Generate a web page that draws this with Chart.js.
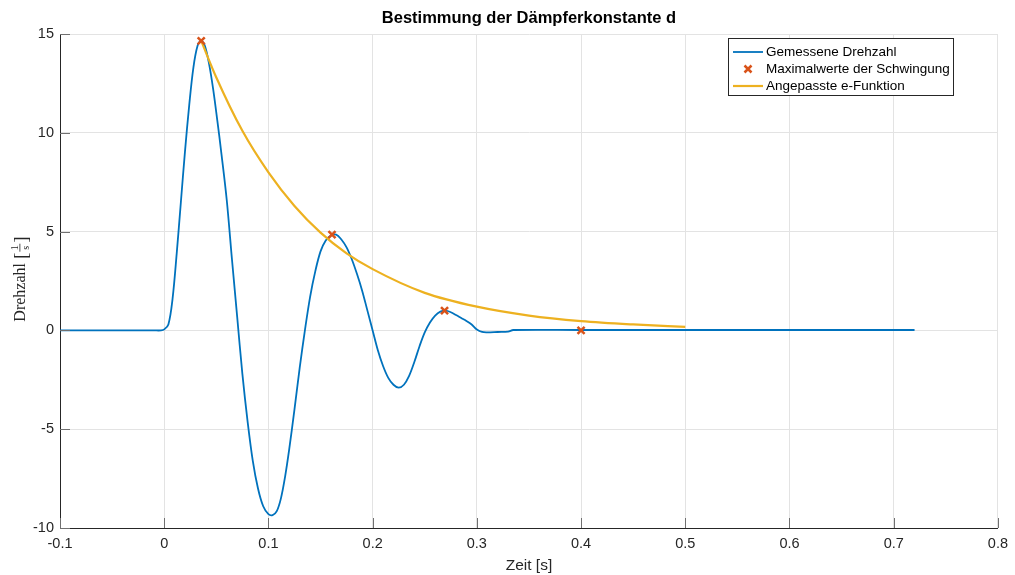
<!DOCTYPE html>
<html>
<head>
<meta charset="utf-8">
<script src="https://cdn.jsdelivr.net/npm/chart.js@4"></script>
<style>
  html, body { margin: 0; padding: 0; background: #fff; }
</style>
</head>
<body>
<canvas id="grafico" width="1015" height="575"></canvas>
<script>
const zeitMessung = [-0.1, -0.05, -0.01, -0.003, 0, 0.004, 0.008, 0.012, 0.016, 0.020, 0.024, 0.028, 0.032, 0.0355, 0.039, 0.043, 0.047, 0.051, 0.055,
  0.060, 0.065, 0.070, 0.075, 0.080, 0.085, 0.090, 0.095, 0.100, 0.104, 0.108, 0.112, 0.116, 0.120, 0.125, 0.130, 0.135,
  0.140, 0.145, 0.150, 0.155, 0.160, 0.165, 0.170, 0.175, 0.180, 0.185, 0.190, 0.195, 0.200, 0.205, 0.210, 0.215, 0.220,
  0.225, 0.230, 0.235, 0.240, 0.245, 0.250, 0.255, 0.260, 0.265, 0.270, 0.275, 0.280, 0.285, 0.290, 0.295, 0.300, 0.305,
  0.310, 0.320, 0.330, 0.335, 0.40, 0.55, 0.720];
const drehzahlMessung = [0, 0, 0, 0, 0.05, 0.3, 1.6, 3.9, 6.5, 9.1, 11.4, 13.3, 14.4, 14.65, 14.4, 13.5, 12.2, 10.6, 8.9,
  6.6, 3.6, 0.7, -2.2, -4.6, -6.6, -8.0, -8.9, -9.3, -9.35, -9.15, -8.5, -7.4, -6.0, -4.0, -1.9, 0.0,
  1.7, 3.0, 4.0, 4.55, 4.8, 4.85, 4.6, 4.2, 3.6, 2.85, 2.0, 1.0, 0.0, -1.0, -1.8, -2.4, -2.75,
  -2.9, -2.75, -2.3, -1.6, -0.8, -0.1, 0.4, 0.75, 0.95, 1.0, 0.92, 0.78, 0.63, 0.48, 0.3, 0.05, -0.08,
  -0.1, -0.08, -0.06, 0.02, 0.02, 0.02, 0.02];

// Maximalwerte
const zeitMaxima = [0.0355, 0.161, 0.269, 0.400];
const drehzahlMaxima = [14.65, 4.85, 1.0, 0.0];

// Angepasste e-Funktion
const zeitFit = [0.0355, 0.05, 0.075, 0.1, 0.125, 0.15, 0.175, 0.2, 0.25, 0.3, 0.35, 0.4, 0.45, 0.5];
const drehzahlFit = [14.65, 12.8, 10.1, 8.0, 6.3, 4.95, 3.9, 3.1, 1.9, 1.2, 0.75, 0.47, 0.3, 0.18];

// Achsen
const xTickWerte = [-0.1, 0, 0.1, 0.2, 0.3, 0.4, 0.5, 0.6, 0.7, 0.8];
const xTickLabels = ['-0.1', '0', '0.1', '0.2', '0.3', '0.4', '0.5', '0.6', '0.7', '0.8'];
const yTickWerte = [-10, -5, 0, 5, 10, 15];
const yTickLabels = ['-10', '-5', '0', '5', '10', '15'];

const legendeTexte = ['Gemessene Drehzahl', 'Maximalwerte der Schwingung', 'Angepasste e-Funktion'];

const BLAU = '#0072BD', ROT = '#D95319', GELB = '#EDB120';
const SCHRIFT = "'Liberation Sans', Arial, Helvetica, sans-serif";
const SERIF = '"Liberation Serif", "DejaVu Serif", serif';
const DUNKEL = '#262626';

const punkte = (xs, ys) => xs.map((x, i) => ({ x: x, y: ys[i] }));

// Titel, Achsenbeschriftung, Ticks nach innen, Legende
const beschriftung = {
  id: 'beschriftung',
  afterDraw(chart) {
    const { ctx, chartArea: a, scales: { x, y } } = chart;
    ctx.save();

    // Ticks nach innen
    ctx.strokeStyle = '#707070';
    ctx.lineWidth = 1;
    ctx.beginPath();
    xTickWerte.forEach(v => {
      const px = Math.round(x.getPixelForValue(v)) + 0.5;
      ctx.moveTo(px, a.bottom); ctx.lineTo(px, a.bottom - 10);
    });
    yTickWerte.forEach(v => {
      const py = Math.round(y.getPixelForValue(v)) + 0.5;
      ctx.moveTo(a.left, py); ctx.lineTo(a.left + 10, py);
    });
    ctx.stroke();

    const mitte = (a.left + a.right) / 2;

    // Titel
    ctx.fillStyle = '#000';
    ctx.font = 'bold 16.5px ' + SCHRIFT;
    ctx.textAlign = 'center';
    ctx.textBaseline = 'middle';
    ctx.fillText('Bestimmung der Dämpferkonstante d', mitte, 18);

    // x-Achse
    ctx.fillStyle = DUNKEL;
    ctx.font = '15.5px ' + SCHRIFT;
    ctx.fillText('Zeit [s]', mitte, 566);

    // y-Achse (Serifenschrift wie LaTeX)
    ctx.save();
    ctx.translate(21, 279);
    ctx.rotate(-Math.PI / 2);
    ctx.font = '16px ' + SERIF;
    ctx.textAlign = 'left';
    const t1 = 'Drehzahl ';
    const w1 = ctx.measureText(t1).width;
    ctx.font = '19px ' + SERIF;
    const wBr = ctx.measureText('[').width;
    const wFr = 8;
    const gesamt = w1 + wBr * 2 + wFr + 2;
    let cx = -gesamt / 2;
    ctx.font = '16px ' + SERIF;
    ctx.fillText(t1, cx, 0); cx += w1;
    ctx.font = '19px ' + SERIF;
    ctx.fillText('[', cx, 1); cx += wBr + 1;
    ctx.font = '10px ' + SERIF;
    ctx.textAlign = 'center';
    ctx.fillText('1', cx + wFr / 2, -6);
    ctx.fillText('s', cx + wFr / 2, 5);
    ctx.fillRect(cx, -1.5, wFr, 0.8);
    cx += wFr + 1;
    ctx.textAlign = 'left';
    ctx.font = '19px ' + SERIF;
    ctx.fillText(']', cx, 1);
    ctx.restore();

    // Legende
    const lx = 728.5, ly = 38.5, lw = 225, lh = 57;
    ctx.fillStyle = '#fff';
    ctx.fillRect(lx, ly, lw, lh);
    ctx.strokeStyle = DUNKEL;
    ctx.lineWidth = 1;
    ctx.strokeRect(lx, ly, lw, lh);
    const zeilen = [52, 69, 86];
    ctx.font = '13.5px ' + SCHRIFT;
    ctx.textAlign = 'left';
    ctx.textBaseline = 'middle';
    legendeTexte.forEach((txt, i) => {
      const zy = zeilen[i];
      if (i === 1) {
        ctx.strokeStyle = ROT; ctx.lineWidth = 2.5;
        ctx.beginPath();
        ctx.moveTo(744.5, zy - 3.5); ctx.lineTo(751.5, zy + 3.5);
        ctx.moveTo(751.5, zy - 3.5); ctx.lineTo(744.5, zy + 3.5);
        ctx.stroke();
      } else {
        ctx.strokeStyle = i === 0 ? BLAU : GELB;
        ctx.lineWidth = i === 0 ? 1.8 : 2.2;
        ctx.beginPath();
        ctx.moveTo(733, zy); ctx.lineTo(763, zy);
        ctx.stroke();
      }
      ctx.fillStyle = '#000';
      ctx.fillText(txt, 766, zy);
    });

    ctx.restore();
  }
};

new Chart(document.getElementById('grafico'), {
  type: 'line',
  data: {
    datasets: [{
      label: legendeTexte[0],
      data: punkte(zeitMessung, drehzahlMessung),
      borderColor: BLAU,
      borderWidth: 1.8,
      pointRadius: 0,
      tension: 0.35,
      order: 3
    }, {
      label: legendeTexte[1],
      data: punkte(zeitMaxima, drehzahlMaxima),
      showLine: false,
      pointStyle: 'crossRot',
      pointRadius: 5,
      borderWidth: 2.5,
      borderColor: ROT,
      backgroundColor: ROT,
      order: 1
    }, {
      label: legendeTexte[2],
      data: punkte(zeitFit, drehzahlFit),
      borderColor: GELB,
      borderWidth: 2.2,
      pointRadius: 0,
      cubicInterpolationMode: 'monotone',
      order: 2
    }]
  },
  options: {
    responsive: false,
    animation: false,
    devicePixelRatio: 1,
    layout: { padding: { left: 0, right: 17, top: 34, bottom: 0 } },
    plugins: { legend: { display: false }, title: { display: false }, tooltip: { enabled: false } },
    scales: {
      x: {
        type: 'linear',
        min: -0.1, max: 0.8,
        afterFit: s => { s.height = 47; },
        afterBuildTicks: s => { s.ticks = xTickWerte.map(v => ({ value: v })); },
        ticks: {
          callback: (v, i) => xTickLabels[i],
          font: { family: SCHRIFT, size: 14.5 },
          color: DUNKEL,
          padding: 7,
          maxRotation: 0
        },
        grid: { color: '#e3e3e3', drawTicks: false },
        border: { color: DUNKEL, width: 1 }
      },
      y: {
        type: 'linear',
        min: -10, max: 15,
        afterFit: s => { s.width = 60; },
        afterBuildTicks: s => { s.ticks = yTickWerte.map(v => ({ value: v })); },
        ticks: {
          callback: (v, i) => yTickLabels[i],
          font: { family: SCHRIFT, size: 14.5 },
          color: DUNKEL,
          padding: 6
        },
        grid: { color: '#e3e3e3', drawTicks: false },
        border: { color: DUNKEL, width: 1 }
      }
    }
  },
  plugins: [beschriftung]
});
</script>
</body>
</html>
